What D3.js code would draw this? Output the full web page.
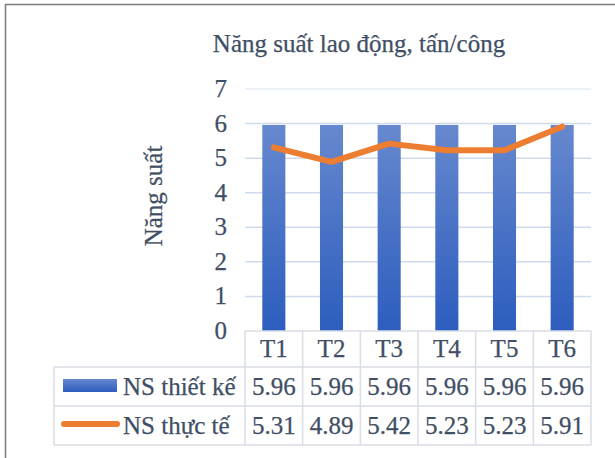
<!DOCTYPE html>
<html>
<head>
<meta charset="utf-8">
<script src="https://cdn.jsdelivr.net/npm/d3@7"></script>
<style>
  body { margin: 0; background: #fff; }
  svg { display: block; }
</style>
</head>
<body>
<svg></svg>
<script>
var width = 615,
    height = 458;

// data
var categories = ["T1", "T2", "T3", "T4", "T5", "T6"];
var seriesNames = ["NS thiết kế", "NS thực tế"];
var thietKe = [5.96, 5.96, 5.96, 5.96, 5.96, 5.96];
var thucTe = [5.31, 4.89, 5.42, 5.23, 5.23, 5.91];
var yTicks = [0, 1, 2, 3, 4, 5, 6, 7];
var titleText = "Năng suất lao động, tấn/công";
var yTitle = "Năng suất";

var fontFamily = "'Liberation Serif', 'Times New Roman', serif",
    textColor = "#404F66",
    fontSize = 25,
    stretch = 1.0;

var svg = d3.select("svg")
    .attr("width", width)
    .attr("height", height);

var defs = svg.append("defs");
var grad = defs.append("linearGradient")
    .attr("id", "barGrad")
    .attr("x1", 0).attr("y1", 0)
    .attr("x2", 0).attr("y2", 1);
grad.append("stop").attr("offset", "0%").attr("stop-color", "#6688CE");
grad.append("stop").attr("offset", "100%").attr("stop-color", "#2D5DBE");

// outer frame (only top and left are inside the crop)
svg.append("rect")
    .attr("x", 5.5)
    .attr("y", 4.5)
    .attr("width", 800)
    .attr("height", 800)
    .attr("fill", "none")
    .attr("stroke", "#7a7a7a")
    .attr("stroke-width", 1.5);

var plotLeft = 245, plotRight = 591,
    plotTop = 89, plotBottom = 331;
var rowTop = [367, 406], rowBottom = 445, tableLeft = 54;

var x = d3.scaleBand()
    .domain(categories)
    .range([plotLeft, plotRight]);

var y = d3.scaleLinear()
    .domain([0, 7])
    .range([plotBottom, plotTop]);

var barWidth = x.bandwidth() * 0.4;

function label(sel, tx, ty, anchor, rot) {
    sel.attr("text-anchor", anchor)
        .style("font-family", fontFamily)
        .style("font-size", fontSize + "px")
        .style("fill", textColor)
        .style("stroke", textColor)
        .style("stroke-width", 0.25)
        .attr("transform", "translate(" + tx + "," + ty + ")" + (rot ? " rotate(" + rot + ")" : "") + " scale(" + stretch + ",1)");
    return sel;
}

///////////////////////
// Titles
///////////////////////

svg.append("text")
    .call(label, 359, 52, "middle")
    .text(titleText);

svg.append("text")
    .call(label, 162, 196, "middle", -90)
    .text(yTitle);

///////////////////////
// Grid and y labels
///////////////////////

svg.selectAll(".grid")
    .data(yTicks.filter(function(d) { return d > 0; }))
    .enter()
    .append("line")
    .attr("x1", plotLeft)
    .attr("x2", plotRight)
    .attr("y1", function(d) { return y(d); })
    .attr("y2", function(d) { return y(d); })
    .attr("stroke", function(d) { return d == 7 ? "#E6ECF6" : "#CFDAEE"; })
    .attr("stroke-width", 1.5);

svg.selectAll(".ytick")
    .data(yTicks)
    .enter()
    .append("text")
    .each(function(d) {
        d3.select(this).call(label, 227, y(d) + 8, "end");
    })
    .text(function(d) { return d; });

///////////////////////
// Bars and line
///////////////////////

svg.selectAll(".bar")
    .data(thietKe)
    .enter()
    .append("rect")
    .attr("x", function(d, i) { return x(categories[i]) + x.bandwidth() / 2 - barWidth / 2; })
    .attr("width", barWidth)
    .attr("y", function(d) { return y(d); })
    .attr("height", function(d) { return y(0) - y(d); })
    .attr("fill", "url(#barGrad)");

var line = d3.line()
    .x(function(d, i) { return x(categories[i]) + x.bandwidth() / 2; })
    .y(function(d) { return y(d); });

svg.append("path")
    .datum(thucTe)
    .attr("d", line)
    .attr("fill", "none")
    .attr("stroke", "#ED7D31")
    .attr("stroke-width", 6)
    .attr("stroke-linecap", "round")
    .attr("stroke-linejoin", "round");

///////////////////////
// Data table
///////////////////////

var tableColor = "#D8DDE6";
var tbl = svg.append("g")
    .attr("stroke", tableColor)
    .attr("stroke-width", 1.5)
    .attr("fill", "none");

// horizontal lines
tbl.append("line").attr("x1", plotLeft).attr("x2", plotRight).attr("y1", plotBottom).attr("y2", plotBottom);
[rowTop[0], rowTop[1], rowBottom].forEach(function(yy) {
    tbl.append("line").attr("x1", tableLeft).attr("x2", plotRight).attr("y1", yy).attr("y2", yy);
});
// vertical lines
tbl.append("line").attr("x1", tableLeft).attr("x2", tableLeft).attr("y1", rowTop[0]).attr("y2", rowBottom);
categories.concat([null]).forEach(function(c) {
    var xx = c ? x(c) : plotRight;
    tbl.append("line").attr("x1", xx).attr("x2", xx).attr("y1", plotBottom).attr("y2", rowBottom);
});

svg.selectAll(".cat")
    .data(categories)
    .enter()
    .append("text")
    .each(function(d) {
        d3.select(this).call(label, x(d) + x.bandwidth() / 2, 357, "middle");
    })
    .text(function(d) { return d; });

[thietKe, thucTe].forEach(function(values, r) {
    var base = (rowTop[r] + (r ? rowBottom : rowTop[1])) / 2 + 8;
    svg.selectAll(".val" + r)
        .data(values)
        .enter()
        .append("text")
        .each(function(d, i) {
            d3.select(this).call(label, x(categories[i]) + x.bandwidth() / 2, base, "middle");
        })
        .text(function(d) { return d3.format(".2f")(d); });

    svg.append("text")
        .call(label, 123, base, "start")
        .text(seriesNames[r]);
});

// legend keys
svg.append("rect")
    .attr("x", 63)
    .attr("y", 379)
    .attr("width", 54)
    .attr("height", 13)
    .attr("fill", "url(#barGrad)");

svg.append("line")
    .attr("x1", 64)
    .attr("x2", 117)
    .attr("y1", 424)
    .attr("y2", 424)
    .attr("stroke", "#ED7D31")
    .attr("stroke-width", 6)
    .attr("stroke-linecap", "round");
</script>
</body>
</html>
